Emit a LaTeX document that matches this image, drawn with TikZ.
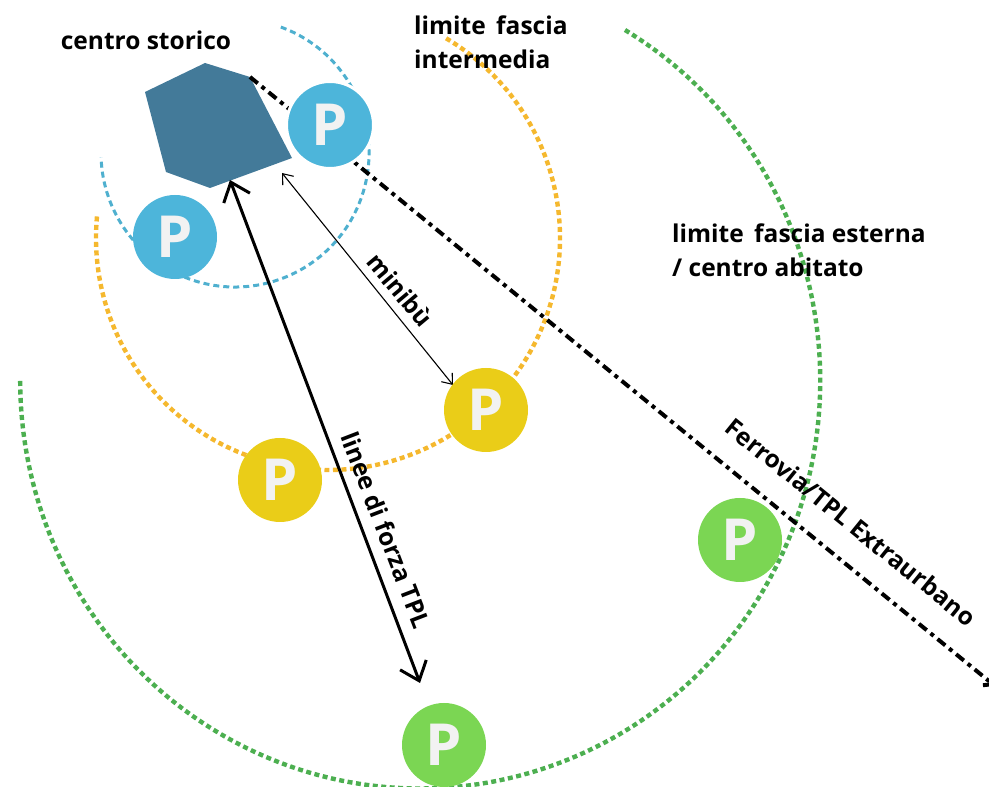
\documentclass[tikz,border=0pt]{standalone}
\usepackage{fontspec}
\setmainfont{Open Sans}
\usetikzlibrary{arrows.meta}
\definecolor{bluepark}{HTML}{4DB5DA}
\definecolor{bluering}{HTML}{4FB0CF}
\definecolor{yellowpark}{HTML}{EACD18}
\definecolor{yellowring}{HTML}{F5B82E}
\definecolor{greenpark}{HTML}{7BD653}
\definecolor{greenring}{HTML}{4CAF50}
\definecolor{core}{HTML}{437A99}

\begin{document}
\begin{tikzpicture}[x=1pt,y=1pt]

\tikzstyle{park}=[circle, minimum size = 84pt, inner sep=0pt, text=white!95!black, font=\fontsize{58}{58}\selectfont\bfseries]
\tikzstyle{ring}=[line width=4.4pt, dash pattern=on 5pt off 3.5pt]
\tikzstyle{label}=[font=\fontsize{24.5}{34}\selectfont\bfseries, inner sep=0pt, align=left]
\tikzstyle{connect}=[{Straight Barb[length=17pt,width=28pt]}-{Straight Barb[length=17pt,width=28pt]}]
\tikzstyle{connectthin}=[{Straight Barb[length=9pt,width=14pt]}-{Straight Barb[length=9pt,width=14pt]}]

\useasboundingbox (0,0) rectangle (989,787);

% rings
\draw[bluering, line width=3pt, dash pattern=on 6pt off 4pt] (235,634) ++(70:134) arc[start angle=70, end angle=-178, radius=134pt];
\draw[ring, yellowring] (328,549) ++(59.4:232) arc[start angle=59.4, end angle=-186, radius=232pt];
\draw[ring, greenring] (625,757) arc[start angle=59.2, end angle=-180, x radius=400pt, y radius=408pt];

% centro storico
\coordinate (c1) at (205,724);
\coordinate (c2) at (250,710);
\coordinate (c3) at (292,629);
\coordinate (c4) at (210,599);
\coordinate (c5) at (166,615);
\coordinate (c6) at (145,695);
\fill[core] (c1) -- (c2) -- (c3) -- (c4) -- (c5) -- (c6) -- cycle;

\coordinate (railend) at (995,101);
\coordinate (forzaA) at (230,607);
\coordinate (forzaB) at (420,104);
\coordinate (miniA) at (282,614);
\coordinate (miniB) at (453,402);

\draw[line width=4pt, dash pattern=on 10pt off 5pt on 4pt off 5pt, -{Straight Barb[length=7pt,width=14pt]}] (c2) -- (railend);
\path (forzaA) [connect, line width=3pt] edge (forzaB);
\path (miniA) [connectthin, line width=1.1pt] edge (miniB);

\node[park, fill=bluepark, draw=white, line width=3pt, minimum size=87pt] (p1) at (330,662) {P};
\node[park, fill=bluepark] (p2) at (175,550) {P};
\node[park, fill=yellowpark] (p3) at (486,377) {P};
\node[park, fill=yellowpark] (p4) at (280,307) {P};
\node[park, fill=greenpark] (p5) at (740,247) {P};
\node[park, fill=greenpark] (p6) at (444,42) {P};

\node[label] (storico) at (146,747) {centro storico};
\node[label, anchor=west] (media) at (414,745) {limite\, fascia\\intermedia};
\node[label, anchor=west] (esterna) at (672,537) {limite\, fascia esterna\\/ centro abitato};
\node[label, rotate=-50] (minibus) at (400,497) {minibù};
\node[label, rotate=-69] (forza) at (386,257) {linee di forza TPL};
\node[label, rotate=-39] (rail) at (851,265) {Ferrovia/TPL Extraurbano};

\end{tikzpicture}
\end{document}
